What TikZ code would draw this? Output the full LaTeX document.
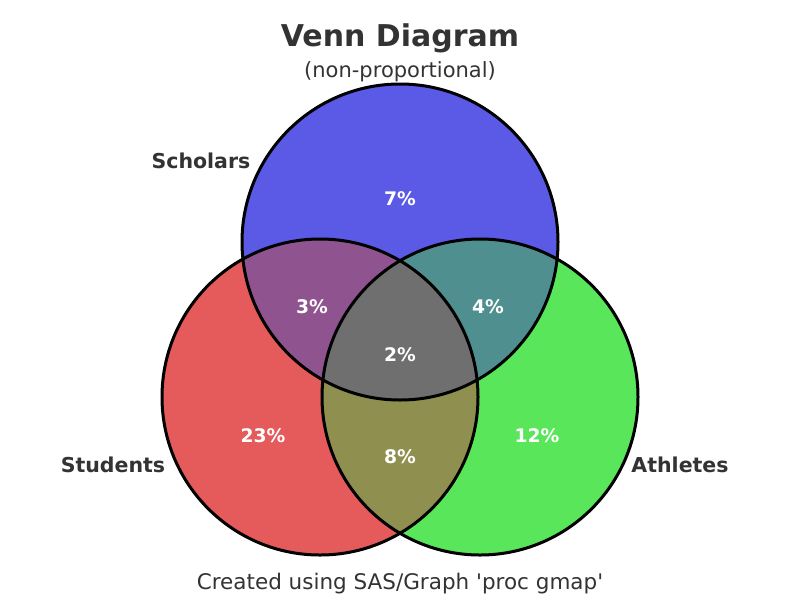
\documentclass[tikz,border=0pt]{standalone}
\usepackage{fontspec}
\setmainfont{DejaVu Sans}
\newfontfamily\plainfont{DejaVu Sans}
\definecolor{txt}{HTML}{333333}
\definecolor{cblue}{RGB}{90,90,230}
\definecolor{cred}{RGB}{229,90,90}
\definecolor{cgreen}{RGB}{90,230,90}
\definecolor{cpurple}{RGB}{143,84,143}
\definecolor{cteal}{RGB}{80,143,143}
\definecolor{colive}{RGB}{143,143,80}
\definecolor{cgray}{RGB}{111,111,111}
\begin{document}
\begin{tikzpicture}[x=1pt,y=-1pt,
  pct/.style={text=white,font=\bfseries\fontsize{18.7}{22}\selectfont},
  setlbl/.style={text=txt,font=\bfseries\fontsize{20.5}{24}\selectfont},
  ring/.style={draw=black,line width=3pt}]
\useasboundingbox (0,0) rectangle (800,600);
\fill[white] (0,0) rectangle (800,600);
\def\R{158}
\coordinate (A) at (400,242);
\coordinate (B) at (320,397);
\coordinate (C) at (480,397);
\fill[cblue] (A) circle (\R);
\fill[cred] (B) circle (\R);
\fill[cgreen] (C) circle (\R);
\begin{scope}\clip (A) circle (\R); \fill[cpurple] (B) circle (\R); \fill[cteal] (C) circle (\R);\end{scope}
\begin{scope}\clip (B) circle (\R); \fill[colive] (C) circle (\R);\end{scope}
\begin{scope}\clip (A) circle (\R); \clip (B) circle (\R); \fill[cgray] (C) circle (\R);\end{scope}
\draw[ring] (A) circle (\R);
\draw[ring] (B) circle (\R);
\draw[ring] (C) circle (\R);
\node[text=txt,font=\bfseries\fontsize{30}{35}\selectfont] (title) at (400,38) {Venn Diagram};
\node[text=txt,font=\fontsize{21}{25}\selectfont] (sub) at (400,72) {(non-proportional)};
\node[setlbl] (sch) at (201,161) {Scholars};
\node[setlbl] (stu) at (113,465) {Students};
\node[setlbl] (ath) at (680,465) {Athletes};
\node[text=txt,font=\plainfont\fontsize{21.5}{25}\selectfont] (foot) at (400,584) {Created using SAS/Graph 'proc gmap'};
\node[pct] (p7) at (400,199) {7\%};
\node[pct] (p3) at (312,307) {3\%};
\node[pct] (p4) at (488,307) {4\%};
\node[pct] (p2) at (400,355) {2\%};
\node[pct] (p23) at (263,436) {23\%};
\node[pct] (p12) at (537,436) {12\%};
\node[pct] (p8) at (400,457) {8\%};
\end{tikzpicture}
\end{document}
